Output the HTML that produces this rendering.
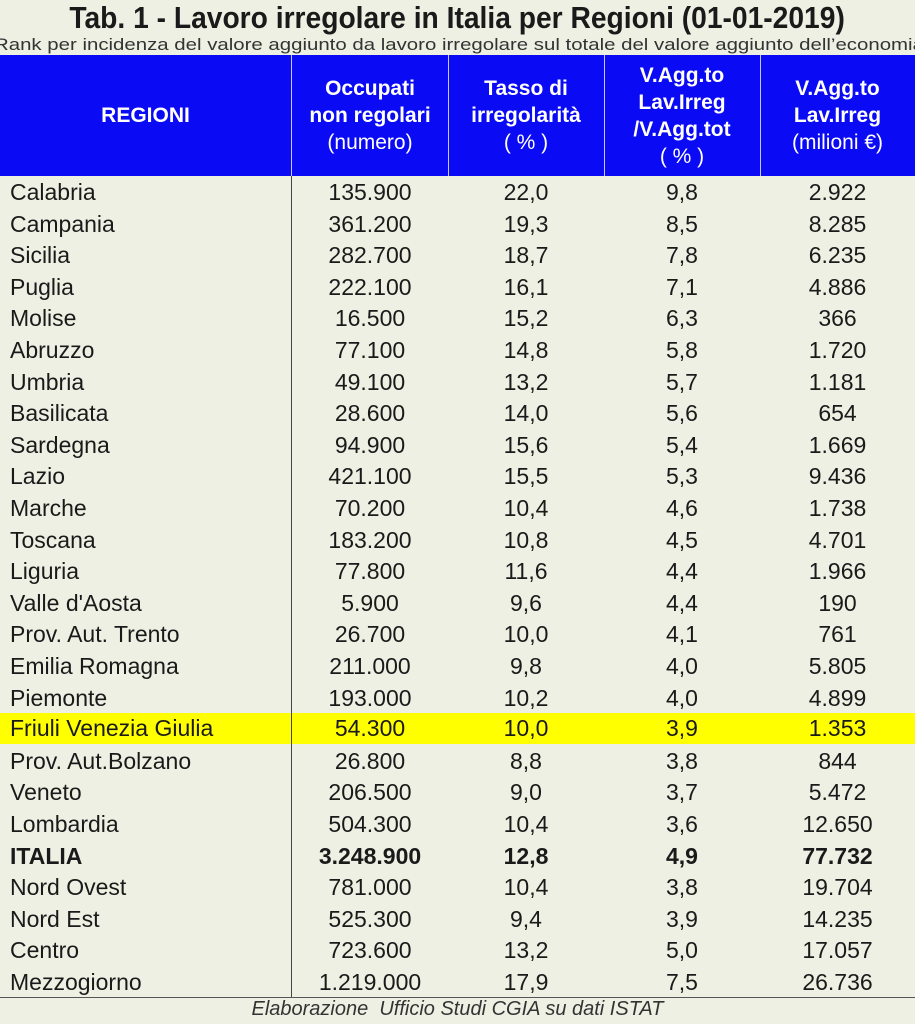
<!DOCTYPE html>
<html><head><meta charset="utf-8"><style>
body{margin:0;width:915px;height:1024px;background:#eef0e3;font-family:"Liberation Sans",sans-serif;position:relative;overflow:hidden;color:#1a1a1a}
.t{position:absolute;left:0;width:915px;text-align:center;top:0px;font-size:31px;font-weight:bold;white-space:nowrap}
.t span{display:inline-block;transform:scaleX(0.91)}
.s{position:absolute;left:-6px;top:35px;font-size:17px;white-space:nowrap;color:#333}
.s span{display:inline-block;transform:scaleX(1.2);transform-origin:left}
.hd{position:absolute;top:55px;left:0;width:915px;height:121px;background:#0a0af5}
.hc{position:absolute;top:55px;height:121px;display:flex;align-items:center;justify-content:center;text-align:center;color:#fff;font-size:21px;line-height:27px}
.vl{position:absolute;top:55px;width:1px;height:121px;background:#c8c8e8}
.bl{position:absolute;left:291px;top:176px;width:1px;height:821px;background:#444}
.r{position:absolute;left:0;width:915px;height:31.6px;font-size:23px;line-height:31.6px}
.r div{position:absolute;top:0;text-align:center}
.r .a{left:10px;text-align:left}
.r .b{left:292px;width:156px}.r .c{left:448px;width:156px}.r .d{left:604px;width:156px}.r .e{left:760px;width:155px}
.y{background:#ffff00}
.ft{position:absolute;top:998px;left:0;width:915px;text-align:center;font-size:20px;font-style:italic;color:#333}
</style></head><body>
<div class="t"><span>Tab. 1 - Lavoro irregolare in Italia per Regioni (01-01-2019)</span></div>
<div class="s"><span>Rank per incidenza del valore aggiunto da lavoro irregolare sul totale del valore aggiunto dell’economia</span></div>
<div class="hd"></div>
<div class="hc" style="left:0;width:291px;font-weight:bold">REGIONI</div>
<div class="hc" style="left:292px;width:156px"><div><b>Occupati<br>non regolari</b><br>(numero)</div></div>
<div class="hc" style="left:448px;width:156px"><div><b>Tasso di<br>irregolarità</b><br>( % )</div></div>
<div class="hc" style="left:604px;width:156px"><div><b>V.Agg.to<br>Lav.Irreg<br>/V.Agg.tot</b><br>( % )</div></div>
<div class="hc" style="left:760px;width:155px"><div><b>V.Agg.to<br>Lav.Irreg</b><br>(milioni €)</div></div>
<div class="vl" style="left:291px"></div><div class="vl" style="left:448px"></div><div class="vl" style="left:604px"></div><div class="vl" style="left:760px"></div>
<div class="r" style="top:177px"><div class="a">Calabria</div><div class="b">135.900</div><div class="c">22,0</div><div class="d">9,8</div><div class="e">2.922</div></div>
<div class="r" style="top:208.6px"><div class="a">Campania</div><div class="b">361.200</div><div class="c">19,3</div><div class="d">8,5</div><div class="e">8.285</div></div>
<div class="r" style="top:240.2px"><div class="a">Sicilia</div><div class="b">282.700</div><div class="c">18,7</div><div class="d">7,8</div><div class="e">6.235</div></div>
<div class="r" style="top:271.8px"><div class="a">Puglia</div><div class="b">222.100</div><div class="c">16,1</div><div class="d">7,1</div><div class="e">4.886</div></div>
<div class="r" style="top:303.4px"><div class="a">Molise</div><div class="b">16.500</div><div class="c">15,2</div><div class="d">6,3</div><div class="e">366</div></div>
<div class="r" style="top:335px"><div class="a">Abruzzo</div><div class="b">77.100</div><div class="c">14,8</div><div class="d">5,8</div><div class="e">1.720</div></div>
<div class="r" style="top:366.6px"><div class="a">Umbria</div><div class="b">49.100</div><div class="c">13,2</div><div class="d">5,7</div><div class="e">1.181</div></div>
<div class="r" style="top:398.2px"><div class="a">Basilicata</div><div class="b">28.600</div><div class="c">14,0</div><div class="d">5,6</div><div class="e">654</div></div>
<div class="r" style="top:429.8px"><div class="a">Sardegna</div><div class="b">94.900</div><div class="c">15,6</div><div class="d">5,4</div><div class="e">1.669</div></div>
<div class="r" style="top:461.4px"><div class="a">Lazio</div><div class="b">421.100</div><div class="c">15,5</div><div class="d">5,3</div><div class="e">9.436</div></div>
<div class="r" style="top:493px"><div class="a">Marche</div><div class="b">70.200</div><div class="c">10,4</div><div class="d">4,6</div><div class="e">1.738</div></div>
<div class="r" style="top:524.6px"><div class="a">Toscana</div><div class="b">183.200</div><div class="c">10,8</div><div class="d">4,5</div><div class="e">4.701</div></div>
<div class="r" style="top:556.2px"><div class="a">Liguria</div><div class="b">77.800</div><div class="c">11,6</div><div class="d">4,4</div><div class="e">1.966</div></div>
<div class="r" style="top:587.8px"><div class="a">Valle d'Aosta</div><div class="b">5.900</div><div class="c">9,6</div><div class="d">4,4</div><div class="e">190</div></div>
<div class="r" style="top:619.4px"><div class="a">Prov. Aut. Trento</div><div class="b">26.700</div><div class="c">10,0</div><div class="d">4,1</div><div class="e">761</div></div>
<div class="r" style="top:651px"><div class="a">Emilia Romagna</div><div class="b">211.000</div><div class="c">9,8</div><div class="d">4,0</div><div class="e">5.805</div></div>
<div class="r" style="top:682.6px"><div class="a">Piemonte</div><div class="b">193.000</div><div class="c">10,2</div><div class="d">4,0</div><div class="e">4.899</div></div>
<div class="r y" style="top:712.5px"><div class="a">Friuli Venezia Giulia</div><div class="b">54.300</div><div class="c">10,0</div><div class="d">3,9</div><div class="e">1.353</div></div>
<div class="r" style="top:745.8px"><div class="a">Prov. Aut.Bolzano</div><div class="b">26.800</div><div class="c">8,8</div><div class="d">3,8</div><div class="e">844</div></div>
<div class="r" style="top:777.4px"><div class="a">Veneto</div><div class="b">206.500</div><div class="c">9,0</div><div class="d">3,7</div><div class="e">5.472</div></div>
<div class="r" style="top:809px"><div class="a">Lombardia</div><div class="b">504.300</div><div class="c">10,4</div><div class="d">3,6</div><div class="e">12.650</div></div>
<div class="r" style="top:840.6px;font-weight:bold"><div class="a">ITALIA</div><div class="b">3.248.900</div><div class="c">12,8</div><div class="d">4,9</div><div class="e">77.732</div></div>
<div class="r" style="top:872.2px"><div class="a">Nord Ovest</div><div class="b">781.000</div><div class="c">10,4</div><div class="d">3,8</div><div class="e">19.704</div></div>
<div class="r" style="top:903.8px"><div class="a">Nord Est</div><div class="b">525.300</div><div class="c">9,4</div><div class="d">3,9</div><div class="e">14.235</div></div>
<div class="r" style="top:935.4px"><div class="a">Centro</div><div class="b">723.600</div><div class="c">13,2</div><div class="d">5,0</div><div class="e">17.057</div></div>
<div class="r" style="top:967px"><div class="a">Mezzogiorno</div><div class="b">1.219.000</div><div class="c">17,9</div><div class="d">7,5</div><div class="e">26.736</div></div>
<div class="bl"></div>
<div style="position:absolute;left:0;top:997px;width:915px;height:1px;background:#555"></div>
<div class="ft">Elaborazione&nbsp; Ufficio Studi CGIA su dati ISTAT</div>
</body></html>
